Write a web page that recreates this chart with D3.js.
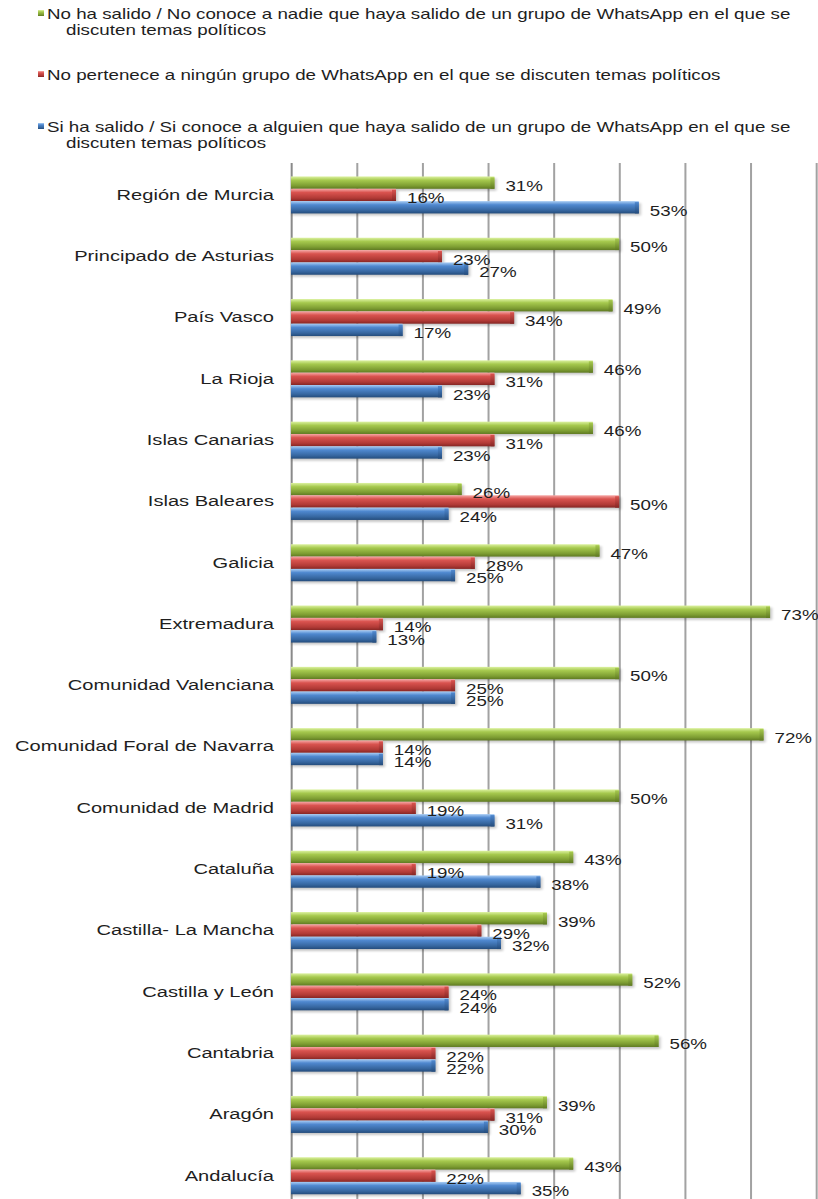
<!DOCTYPE html>
<html>
<head>
<meta charset="utf-8">
<script src="https://cdnjs.cloudflare.com/ajax/libs/d3/7.8.5/d3.min.js"></script>
<style>
  body { margin: 0; background: #fff; }
  svg { display: block; }
  text { font-family: "Liberation Sans", Arial, sans-serif; fill: #1e1e1e; }
</style>
</head>
<body>
<svg></svg>
<script>
// data, top to bottom as in the chart
const categories = [
    "Región de Murcia", "Principado de Asturias", "País Vasco", "La Rioja",
    "Islas Canarias", "Islas Baleares", "Galicia", "Extremadura",
    "Comunidad Valenciana", "Comunidad Foral de Navarra", "Comunidad de Madrid",
    "Cataluña", "Castilla- La Mancha", "Castilla y León", "Cantabria", "Aragón", "Andalucía"
]
const noHaSalido  = [31, 50, 49, 46, 46, 26, 47, 73, 50, 72, 50, 43, 39, 52, 56, 39, 43]
const noPertenece = [16, 23, 34, 31, 31, 50, 28, 14, 25, 14, 19, 19, 29, 24, 22, 31, 22]
const siHaSalido  = [53, 27, 17, 23, 23, 24, 25, 13, 25, 14, 31, 38, 32, 24, 22, 30, 35]

const seriesKeys = ["green", "red", "blue"]
const legendLabels = [
    ["No ha salido / No conoce a nadie que haya salido de un grupo de WhatsApp en el que se", "discuten temas políticos"],
    ["No pertenece a ningún grupo de WhatsApp en el que se discuten temas políticos"],
    ["Si ha salido / Si conoce a alguien que haya salido de un grupo de WhatsApp en el que se", "discuten temas políticos"]
]
const xTicks = [0, 10, 20, 30, 40, 50, 60, 70, 80]

;(function(d3){
    const width = 818
    const height = 1199
    // the original picture is stretched sideways, so the whole drawing is too
    const stretch = 1.34
    const px = v => v / stretch

    const svg = d3.select('svg')
        .attr('width', width)
        .attr('height', height)
        .attr('viewBox', `0 0 ${width / stretch} ${height}`)
        .attr('preserveAspectRatio', 'none')

    const colors = {
        green: ['#dcf2a0', '#a6c94e', '#7d9d32', '#5f7a22'],
        red:   ['#f7a8a6', '#d9534f', '#b13a36', '#852624'],
        blue:  ['#a9cdf5', '#4f88cf', '#36669f', '#244c7c']
    }

    const defs = svg.append('defs')
    seriesKeys.forEach(k => {
        const c = colors[k]
        const g = defs.append('linearGradient')
            .attr('id', `grad-${k}`)
            .attr('x1', 0).attr('y1', 0).attr('x2', 0).attr('y2', 1)
        g.append('stop').attr('offset', '0%').attr('stop-color', c[0])
        g.append('stop').attr('offset', '30%').attr('stop-color', c[1])
        g.append('stop').attr('offset', '75%').attr('stop-color', c[2])
        g.append('stop').attr('offset', '100%').attr('stop-color', c[3])
        const cap = defs.append('linearGradient')
            .attr('id', `cap-${k}`)
            .attr('x1', 0).attr('y1', 0).attr('x2', 0).attr('y2', 1)
        cap.append('stop').attr('offset', '0%').attr('stop-color', c[1])
        cap.append('stop').attr('offset', '100%').attr('stop-color', c[3])
    })
    defs.append('filter')
        .attr('id', 'soft')
        .attr('x', '-5%').attr('y', '-50%').attr('width', '110%').attr('height', '200%')
        .append('feGaussianBlur').attr('stdDeviation', 1.2)

    const plotTop = 163
    const xScale = d3.scaleLinear()
        .domain([0, 80])
        .range([px(291), px(816)])

    const yScale = d3.scaleBand()
        .domain(categories)
        .range([164.3, 164.3 + 61.3 * categories.length])

    const yInner = d3.scaleBand()
        .domain(seriesKeys)
        .range([-18.5, 18.5])

    // gridlines
    const gridG = svg.append('g')
        .attr('transform', `translate(0, ${plotTop})`)
        .call(d3.axisBottom(xScale).tickValues(xTicks).tickSize(height - plotTop).tickFormat(''))
    gridG.select('.domain').remove()
    gridG.selectAll('.tick line')
        .attr('stroke', d => d === 0 ? '#8a8a8a' : '#a2a2a2')
        .attr('stroke-width', 1.5)

    const rows = categories.map((cat, i) => ({
        cat,
        values: [
            { key: 'green', value: noHaSalido[i] },
            { key: 'red', value: noPertenece[i] },
            { key: 'blue', value: siHaSalido[i] }
        ]
    }))

    const barH = yInner.bandwidth()
    const rowG = svg.append('g').selectAll('g')
        .data(rows)
        .enter()
        .append('g')
        .attr('transform', d => `translate(0, ${yScale(d.cat) + yScale.bandwidth() / 2})`)

    // soft shadow under each bar
    rowG.selectAll('rect.shadow')
        .data(d => d.values)
        .enter()
        .append('rect')
        .attr('class', 'shadow')
        .attr('x', xScale(0) + px(1))
        .attr('y', d => yInner(d.key) + 2)
        .attr('width', d => xScale(d.value) - xScale(0) + px(1))
        .attr('height', barH)
        .attr('fill', '#000')
        .attr('opacity', 0.22)
        .attr('filter', 'url(#soft)')

    const bars = rowG.selectAll('g.bar')
        .data(d => d.values)
        .enter()
        .append('g')
        .attr('class', 'bar')

    bars.append('rect')
        .attr('x', xScale(0))
        .attr('y', d => yInner(d.key))
        .attr('width', d => xScale(d.value) - xScale(0))
        .attr('height', barH)
        .attr('fill', d => `url(#grad-${d.key})`)

    // darker bevel at the end of the bar
    bars.append('rect')
        .attr('x', d => xScale(d.value) - px(4))
        .attr('y', d => yInner(d.key) + 1)
        .attr('width', px(4))
        .attr('height', barH - 1)
        .attr('fill', d => `url(#cap-${d.key})`)

    rowG.selectAll('text.value')
        .data(d => d.values)
        .enter()
        .append('text')
        .attr('class', 'value')
        .attr('x', d => xScale(d.value) + px(11))
        .attr('y', d => yInner(d.key) + barH / 2 + 3.5)
        .attr('dy', '0.35em')
        .attr('font-size', 14)
        .text(d => `${d.value}%`)

    // category labels
    const yAxisG = svg.append('g')
        .attr('transform', `translate(${px(274)}, 0)`)
        .call(d3.axisLeft(yScale).tickSize(0).tickPadding(0))
    yAxisG.select('.domain').remove()
    yAxisG.selectAll('text')
        .attr('font-size', 15)
        .attr('font-family', '"Liberation Sans", Arial, sans-serif')
        .attr('fill', '#1e1e1e')

    // legend
    const legendY = [19, 80, 132]
    const legendG = svg.append('g')
    legendLabels.forEach((lines, i) => {
        const key = seriesKeys[i]
        legendG.append('rect')
            .attr('x', px(38))
            .attr('y', legendY[i] - 9)
            .attr('width', px(6))
            .attr('height', 6)
            .attr('fill', `url(#grad-${key})`)
        const t = legendG.append('text')
            .attr('x', px(47))
            .attr('y', legendY[i])
            .attr('font-size', 14)
        lines.forEach((line, j) => {
            t.append('tspan')
                .attr('x', j === 0 ? px(47) : px(66))
                .attr('dy', j === 0 ? 0 : 16)
                .text(line)
        })
    })
}(d3))
</script>
</body>
</html>
